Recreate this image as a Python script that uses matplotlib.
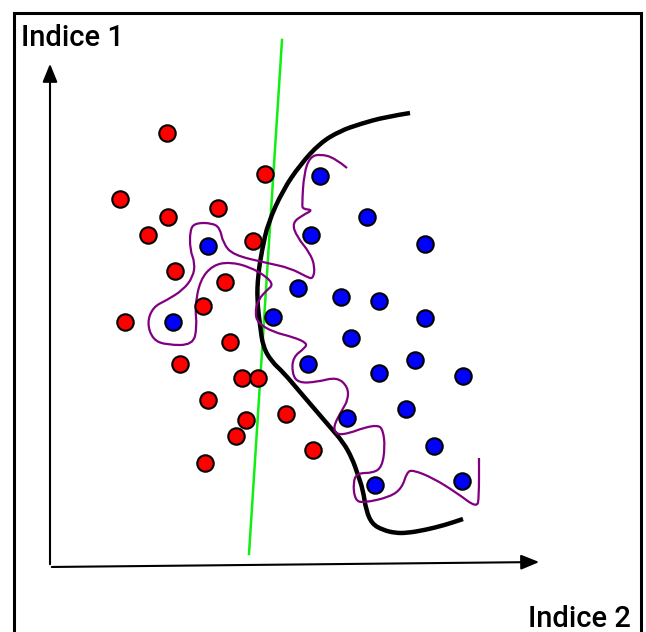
import numpy as np
import matplotlib.pyplot as plt
from matplotlib.path import Path
from matplotlib.patches import PathPatch

# point positions (pixel units, y down)
red_x = [167, 120, 265, 168, 218, 148, 253, 175, 225, 203, 125, 230, 180, 242, 258, 208, 246, 286, 236, 313, 205]
red_y = [133, 199, 174, 217, 208, 235, 241, 271, 282, 306, 322, 342, 364, 378, 378, 400, 420, 414, 436, 450, 463]

blue_x = [320, 367, 311, 425, 208, 298, 341, 379, 173, 273, 425, 351, 308, 415, 379, 463, 406, 347, 434, 375, 462]
blue_y = [176, 217, 235, 244, 246, 288, 297, 301, 322, 317, 318, 338, 364, 360, 373, 376, 409, 418, 446, 485, 481]

green_x = [282, 249]
green_y = [40, 554]

black_x = [410, 385, 360, 340, 320, 300, 283, 268, 262, 258, 257, 260, 263, 272, 283, 300, 318, 330, 343, 352,
           358, 363, 366, 372, 383, 395, 407, 425, 445, 463]
black_y = [113, 117, 124, 131, 143, 165, 190, 223, 250, 275, 300, 325, 347, 362, 372, 392, 413, 427, 442, 458,
           475, 490, 510, 524, 530, 533, 533, 530, 525, 519]

purple_x = [347, 335, 320, 310, 304, 302, 303, 313, 303, 292, 297, 310, 315, 313, 307, 290, 267, 233, 223, 220,
            212, 195, 190, 190, 195, 193, 183, 167, 153, 147, 153, 167, 193, 197, 195, 200, 213, 230, 250, 267,
            273, 267, 258, 255, 258, 273, 293, 307, 305, 293, 292, 298, 317, 337, 348, 348, 342, 333, 337, 350,
            363, 378, 383, 385, 382, 373, 357, 353, 355, 363, 390, 402, 407, 413, 433, 457, 477, 479, 479]
purple_y = [168, 158, 154, 157, 173, 205, 209, 210, 215, 223, 237, 253, 267, 279, 277, 268, 263, 255, 243, 228,
            223, 223, 230, 250, 263, 277, 290, 300, 307, 323, 340, 345, 345, 327, 307, 280, 265, 262, 267, 277,
            285, 290, 300, 313, 323, 332, 337, 343, 348, 357, 373, 383, 382, 377, 387, 400, 410, 427, 435, 433,
            428, 425, 430, 447, 467, 473, 473, 483, 500, 503, 497, 488, 472, 470, 478, 493, 508, 497, 458]


def smooth_path(xs, ys):
    # quadratic bezier through midpoints, read points used as control points
    pts = np.column_stack([xs, ys]).astype(float)
    verts = [pts[0]]
    codes = [Path.MOVETO]
    for i in range(1, len(pts) - 1):
        verts += [pts[i], (pts[i] + pts[i + 1]) / 2]
        codes += [Path.CURVE3, Path.CURVE3]
    verts.append(pts[-1])
    codes.append(Path.LINETO)
    return Path(verts, codes)


fig = plt.figure(figsize=(6.46, 6.32), dpi=100)
ax = fig.add_axes([0, 0, 1, 1])
ax.set_xlim(0, 646)
ax.set_ylim(632, 0)
ax.axis('off')

# frame (bottom edge is cut off in the original)
ax.plot([14, 14, 641, 641], [640, 13, 13, 640], color='black', lw=2.2, solid_joinstyle='miter', clip_on=False)

# axes arrows
ax.annotate('', xy=(50, 61), xytext=(50, 567),
            arrowprops=dict(arrowstyle='-|>,head_length=1.1,head_width=0.45', color='black', lw=1.5))
ax.annotate('', xy=(542, 562), xytext=(49, 567),
            arrowprops=dict(arrowstyle='-|>,head_length=1.1,head_width=0.45', color='black', lw=1.5))

ax.text(21, 35, 'Indice 1', fontsize=21, family='Roboto', fontweight='medium',
        ha='left', va='center_baseline')
ax.text(631, 616, 'Indice 2', fontsize=21, family='Roboto', fontweight='medium',
        ha='right', va='center_baseline')

ax.plot(green_x, green_y, color='#11ee11', lw=1.8, zorder=2)
ax.add_patch(PathPatch(smooth_path(black_x, black_y), fill=False, edgecolor='black', lw=3.2,
                       capstyle='butt', joinstyle='round', zorder=3))
ax.add_patch(PathPatch(smooth_path(purple_x, purple_y), fill=False, edgecolor='#800080', lw=1.6,
                       joinstyle='round', zorder=4))

ax.scatter(red_x, red_y, s=140, color='#ff0000', edgecolor='black', linewidth=1.5, zorder=5)
ax.scatter(blue_x, blue_y, s=140, color='#0000ff', edgecolor='black', linewidth=1.5, zorder=5)

fig.savefig('out.png', dpi=100)
